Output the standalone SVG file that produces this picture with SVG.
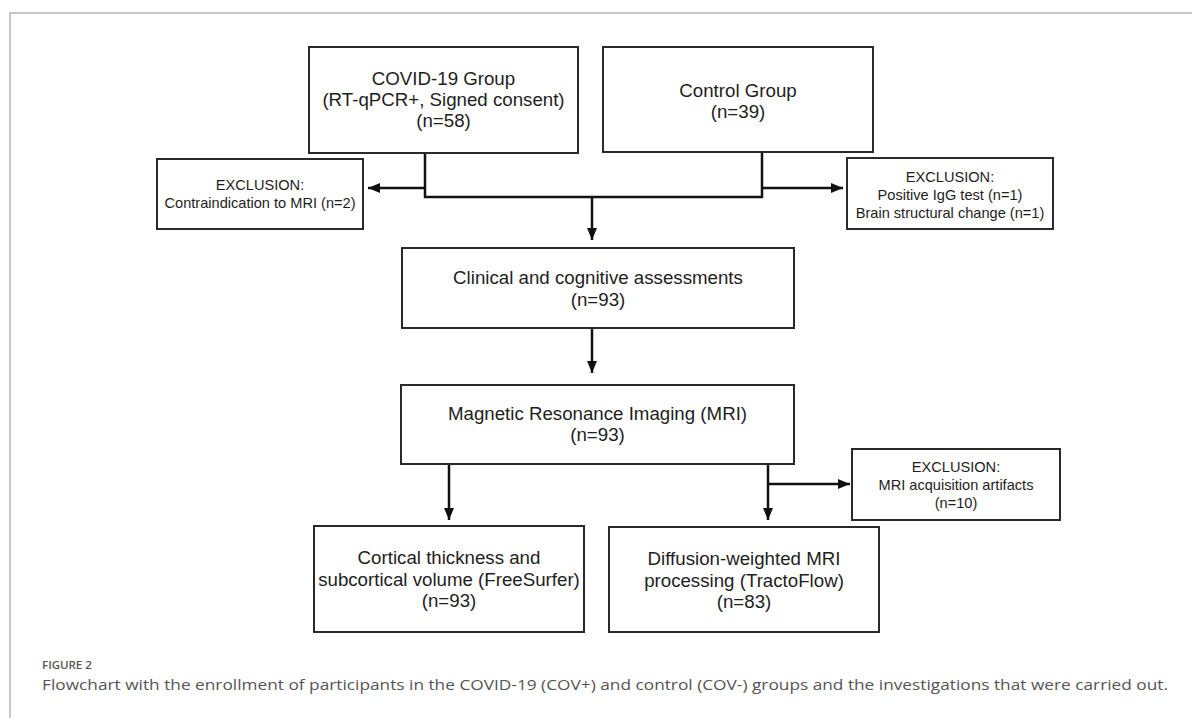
<svg xmlns="http://www.w3.org/2000/svg" width="1192" height="718" viewBox="0 0 1192 718">
<style>
.box{fill:#fff;stroke:#2a2a2a;stroke-width:2}
.t{font-family:"Liberation Sans",Arial,sans-serif;font-size:18.7px;fill:#1e1e1e;text-anchor:middle}
.s{font-family:"Liberation Sans",Arial,sans-serif;font-size:14.6px;fill:#1e1e1e;text-anchor:middle}
.c{fill:none;stroke:#111;stroke-width:2.5}
.cap{font-family:"Open Sans","Noto Sans",sans-serif;fill:#555}
</style>
<defs>
<marker id="ah" markerUnits="userSpaceOnUse" markerWidth="12" markerHeight="10" refX="12" refY="5" orient="auto">
<path d="M0,0 L12,5 L0,10 z" fill="#111"/>
</marker>
</defs>
<path d="M10,718 V13 H1192" fill="none" stroke="#b5b5b5" stroke-width="1.5"/>
<g id="connectors">
<path class="c" d="M425,153 V197 H762 V152"/>
<path class="c" d="M425,188 H368" marker-end="url(#ah)"/>
<path class="c" d="M762,188 H843" marker-end="url(#ah)"/>
<path class="c" d="M592,197 V240" marker-end="url(#ah)"/>
<path class="c" d="M592,328 V373" marker-end="url(#ah)"/>
<path class="c" d="M449,464 V520" marker-end="url(#ah)"/>
<path class="c" d="M768,464 V520" marker-end="url(#ah)"/>
<path class="c" d="M768,484 H850" marker-end="url(#ah)"/>
</g>
<g id="covid">
<rect class="box" x="309" y="47" width="269" height="106"/>
<text class="t" x="443.5" y="85">COVID-19 Group</text>
<text class="t" x="443.5" y="106">(RT-qPCR+, Signed consent)</text>
<text class="t" x="443.5" y="127">(n=58)</text>
</g>
<g id="control">
<rect class="box" x="603" y="47" width="270" height="105"/>
<text class="t" x="738" y="97">Control Group</text>
<text class="t" x="738" y="118">(n=39)</text>
</g>
<g id="excl-left">
<rect class="box" x="157" y="159" width="206" height="70"/>
<text class="s" x="260" y="190">EXCLUSION:</text>
<text class="s" x="260" y="208">Contraindication to MRI (n=2)</text>
</g>
<g id="excl-right">
<rect class="box" x="847" y="158" width="206" height="71"/>
<text class="s" x="950" y="182">EXCLUSION:</text>
<text class="s" x="950" y="200">Positive IgG test (n=1)</text>
<text class="s" x="950" y="218">Brain structural change (n=1)</text>
</g>
<g id="clinical">
<rect class="box" x="402" y="248" width="392" height="80"/>
<text class="t" x="598" y="284">Clinical and cognitive assessments</text>
<text class="t" x="598" y="306">(n=93)</text>
</g>
<g id="mri">
<rect class="box" x="401" y="385" width="393" height="79"/>
<text class="t" x="597.5" y="420">Magnetic Resonance Imaging (MRI)</text>
<text class="t" x="597.5" y="441">(n=93)</text>
</g>
<g id="excl-mri">
<rect class="box" x="852" y="449" width="208" height="71"/>
<text class="s" x="956" y="472">EXCLUSION:</text>
<text class="s" x="956" y="490">MRI acquisition artifacts</text>
<text class="s" x="956" y="508">(n=10)</text>
</g>
<g id="freesurfer">
<rect class="box" x="314" y="526" width="270" height="106"/>
<text class="t" x="449" y="564">Cortical thickness and</text>
<text class="t" x="449" y="586">subcortical volume (FreeSurfer)</text>
<text class="t" x="449" y="607">(n=93)</text>
</g>
<g id="tractoflow">
<rect class="box" x="609" y="527" width="270" height="105"/>
<text class="t" x="744" y="565">Diffusion-weighted MRI</text>
<text class="t" x="744" y="587">processing (TractoFlow)</text>
<text class="t" x="744" y="608">(n=83)</text>
</g>
<text class="cap" x="42" y="669" font-size="11.5" font-weight="600">FIGURE 2</text>
<text class="cap" x="42" y="690" font-size="14" textLength="1126" lengthAdjust="spacingAndGlyphs">Flowchart with the enrollment of participants in the COVID-19 (COV+) and control (COV-) groups and the investigations that were carried out.</text>
</svg>
